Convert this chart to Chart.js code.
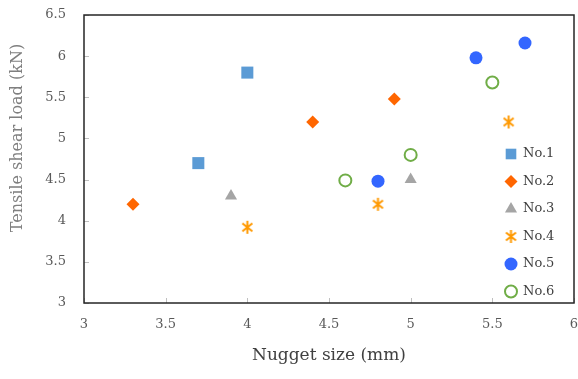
<!DOCTYPE html>
<html>
<head>
<meta charset="utf-8">
<script src="https://cdn.jsdelivr.net/npm/chart.js@4.4.1/dist/chart.umd.min.js"></script>
<style>
html, body { margin: 0; padding: 0; background: #fff; }
</style>
</head>
<body>
<canvas id="scatterChart" width="578" height="379"></canvas>
<script>

// Data

const seriesNames = ["No.1", "No.2", "No.3", "No.4", "No.5", "No.6"];

const no1Size = [3.7, 4.0];
const no1Load = [4.7, 5.8];

const no2Size = [3.3, 4.4, 4.9];
const no2Load = [4.2, 5.2, 5.48];

const no3Size = [3.9, 5.0];
const no3Load = [4.3, 4.5];

const no4Size = [4.0, 4.8, 5.6];
const no4Load = [3.92, 4.2, 5.2];

const no5Size = [4.8, 5.4, 5.7];
const no5Load = [4.48, 5.98, 6.16];

const no6Size = [4.6, 5.0, 5.5];
const no6Load = [4.49, 4.8, 5.68];

const xTicks = [3, 3.5, 4, 4.5, 5, 5.5, 6];
const yTicks = [3, 3.5, 4, 4.5, 5, 5.5, 6, 6.5];

function points(xs, ys) {
    return xs.map((x, i) => ({ x: x, y: ys[i] }));
}


// Asterisk marker (vertical bar + X)

let star = document.createElement("canvas");
star.width = 15;
star.height = 15;
let sctx = star.getContext("2d");
sctx.strokeStyle = "#FF9900";
sctx.lineWidth = 2;
sctx.beginPath();
sctx.moveTo(7.5, 1); sctx.lineTo(7.5, 14);
sctx.moveTo(2.5, 3.5); sctx.lineTo(12.5, 11.5);
sctx.moveTo(2.5, 11.5); sctx.lineTo(12.5, 3.5);
sctx.stroke();


// Frame, inner tick marks, legend and y title

const decorPlugin = {

    id: "decor",

    beforeDatasetsDraw(chart) {
        const ctx = chart.ctx;
        const a = chart.chartArea;
        const xs = chart.scales.x;
        const ys = chart.scales.y;

        ctx.save();
        ctx.strokeStyle = "#BFBFBF";
        ctx.lineWidth = 1;
        ctx.beginPath();
        xTicks.forEach(v => {
            const px = Math.round(xs.getPixelForValue(v)) + 0.5;
            ctx.moveTo(px, a.bottom);
            ctx.lineTo(px, a.bottom - 5);
        });
        yTicks.forEach(v => {
            const py = Math.round(ys.getPixelForValue(v)) + 0.5;
            ctx.moveTo(a.left, py);
            ctx.lineTo(a.left + 5, py);
        });
        ctx.stroke();

        ctx.strokeStyle = "#262626";
        ctx.lineWidth = 1.5;
        ctx.strokeRect(a.left, a.top, a.right - a.left, a.bottom - a.top);
        ctx.restore();
    },

    afterDraw(chart) {
        const ctx = chart.ctx;

        chart.data.datasets.forEach((ds, i) => {
            const y = 154 + i * 27.5;
            ctx.save();
            ctx.fillStyle = ds.backgroundColor;
            ctx.strokeStyle = ds.borderColor;
            ctx.lineWidth = ds.borderWidth;
            Chart.helpers.drawPoint(ctx, {
                pointStyle: ds.pointStyle,
                radius: ds.pointStyle === "rect" ? 7.5 : ds.pointRadius,
                rotation: 0,
                borderWidth: ds.borderWidth
            }, 511, y);
            ctx.fillStyle = "#404040";
            ctx.font = '13px "DejaVu Serif"';
            ctx.textBaseline = "middle";
            ctx.textAlign = "left";
            ctx.fillText(ds.label, 523, y);
            ctx.restore();
        });

        ctx.save();
        ctx.translate(18, 138);
        ctx.rotate(-Math.PI / 2);
        ctx.fillStyle = "#7F7F7F";
        ctx.font = '16px "DejaVu Serif"';
        ctx.textAlign = "center";
        ctx.textBaseline = "middle";
        ctx.fillText("Tensile shear load (kN)", 0, 0);
        ctx.restore();
    }
};


// Scatter Chart

new Chart(document.getElementById("scatterChart"), {

    type: "scatter",

    data: {

        datasets: [
            {
                label: seriesNames[0],
                data: points(no1Size, no1Load),
                pointStyle: "rect",
                pointRadius: 8.5,
                backgroundColor: "#5B9BD5",
                borderColor: "#5B9BD5",
                borderWidth: 0
            },
            {
                label: seriesNames[1],
                data: points(no2Size, no2Load),
                pointStyle: "rectRot",
                pointRadius: 6.5,
                backgroundColor: "#FF6600",
                borderColor: "#FF6600",
                borderWidth: 0
            },
            {
                label: seriesNames[2],
                data: points(no3Size, no3Load),
                pointStyle: "triangle",
                pointRadius: 7,
                backgroundColor: "#A5A5A5",
                borderColor: "#A5A5A5",
                borderWidth: 0
            },
            {
                label: seriesNames[3],
                data: points(no4Size, no4Load),
                pointStyle: star,
                pointRadius: 7,
                backgroundColor: "#FF9900",
                borderColor: "#FF9900",
                borderWidth: 0
            },
            {
                label: seriesNames[4],
                data: points(no5Size, no5Load),
                pointStyle: "circle",
                pointRadius: 6.5,
                backgroundColor: "#3366FF",
                borderColor: "#3366FF",
                borderWidth: 0
            },
            {
                label: seriesNames[5],
                data: points(no6Size, no6Load),
                pointStyle: "circle",
                pointRadius: 6,
                backgroundColor: "#FFFFFF",
                borderColor: "#70AD47",
                borderWidth: 2
            }
        ]
    },

    options: {
        responsive: false,
        animation: false,
        devicePixelRatio: 1,
        layout: {
            autoPadding: false,
            padding: { left: 0, right: 4, top: 15, bottom: 0 }
        },
        plugins: {
            legend: { display: false },
            tooltip: { enabled: false }
        },
        scales: {
            x: {
                type: "linear",
                min: 3,
                max: 6,
                afterBuildTicks: s => { s.ticks = xTicks.map(v => ({ value: v })); },
                afterFit: s => {
                    s.height = 76;
                    s.paddingLeft = 0;
                    s.paddingRight = 0;
                },
                grid: { display: false, drawTicks: false },
                border: { display: false },
                ticks: {
                    padding: 14,
                    color: "#595959",
                    font: { family: "DejaVu Serif", size: 13 },
                    callback: v => String(v)
                },
                title: {
                    display: true,
                    text: "Nugget size (mm)",
                    color: "#404040",
                    padding: { top: 0, bottom: 13 },
                    font: { family: "DejaVu Serif", size: 17, weight: "normal" }
                }
            },
            y: {
                type: "linear",
                min: 3,
                max: 6.5,
                afterBuildTicks: s => { s.ticks = yTicks.map(v => ({ value: v })); },
                afterFit: s => {
                    s.width = 84;
                    s.paddingTop = 0;
                    s.paddingBottom = 0;
                },
                grid: { display: false, drawTicks: false },
                border: { display: false },
                ticks: {
                    padding: 18,
                    color: "#595959",
                    font: { family: "DejaVu Serif", size: 13 },
                    callback: v => String(v)
                }
            }
        }
    },

    plugins: [decorPlugin]

});

</script>
</body>
</html>
